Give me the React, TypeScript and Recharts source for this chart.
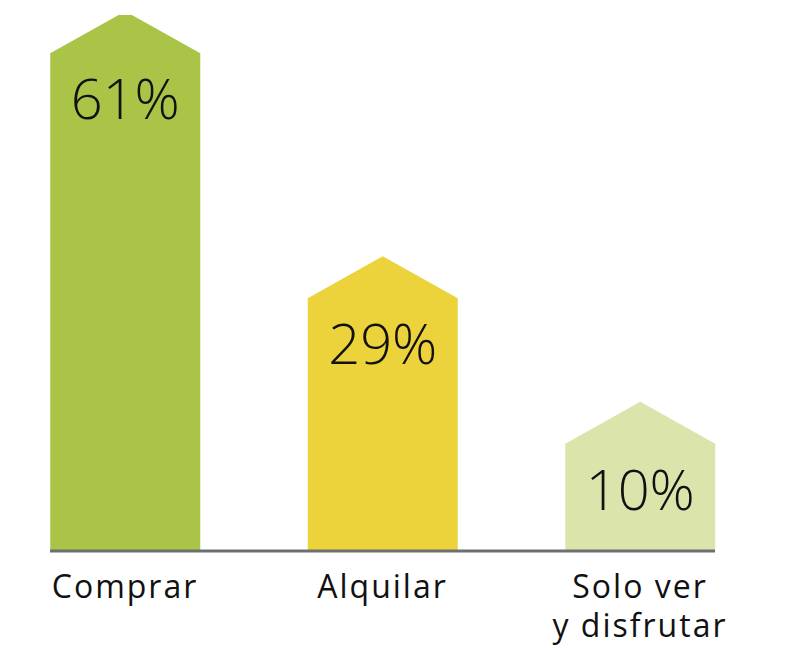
import { BarChart, Bar, XAxis, YAxis, Cell, LabelList } from "recharts"

const categories = ["Comprar", "Alquilar", "Solo ver\ny disfrutar"]
const shares = [61, 29, 10]
const colors = ["#a9c447", "#ecd23b", "#dae4ab"]

const chartData = categories.map((name, i) => ({ name, share: shares[i] }))

const FONT = "'Open Sans', Lato, sans-serif"

const HouseBar = (props: any) => {
  const { x, y, width, height, fill, background } = props
  const bottom = background ? background.y + background.height : y + height
  const roof = 42
  const d = `M${x},${bottom} L${x},${y} L${x + width / 2},${y - roof} L${x + width},${y} L${x + width},${bottom} Z`
  return <path d={d} fill={fill} />
}

const ValueLabel = (props: any) => {
  const { x, y, width, value } = props
  return (
    <text
      x={x + width / 2}
      y={y + 44}
      textAnchor="middle"
      dominantBaseline="central"
      fontFamily={FONT}
      fontWeight={300}
      fontSize={56}
      fill="#111"
    >
      {value}%
    </text>
  )
}

const CategoryTick = ({ x, y, payload }: any) => {
  const lines = String(payload.value).split("\n")
  return (
    <text x={x} y={y} textAnchor="middle" fontFamily={FONT} fontSize={32} letterSpacing={2} fill="#111">
      {lines.map((line, i) => (
        <tspan key={i} x={x} dy={i === 0 ? 39 : 39}>
          {line}
        </tspan>
      ))}
    </text>
  )
}

export default function App() {
  return (
    <div style={{ position: "absolute", left: 0, top: 0, background: "#fff" }}>
      <BarChart
        width={789}
        height={648}
        data={chartData}
        margin={{ top: 15, right: 74, left: 50, bottom: 0 }}
      >
        <XAxis
          dataKey="name"
          height={97}
          padding={{ left: -53.75, right: -53.75 }}
          tickLine={false}
          axisLine={{ stroke: "#6d6e71", strokeWidth: 3 }}
          interval={0}
          tick={<CategoryTick />}
        />
        <YAxis type="number" domain={[-4, 66]} hide allowDataOverflow />
        <Bar dataKey="share" barSize={150} shape={<HouseBar />} isAnimationActive={false}>
          {chartData.map((_, i) => (
            <Cell key={i} fill={colors[i]} />
          ))}
          <LabelList dataKey="share" content={<ValueLabel />} />
        </Bar>
      </BarChart>
    </div>
  )
}
